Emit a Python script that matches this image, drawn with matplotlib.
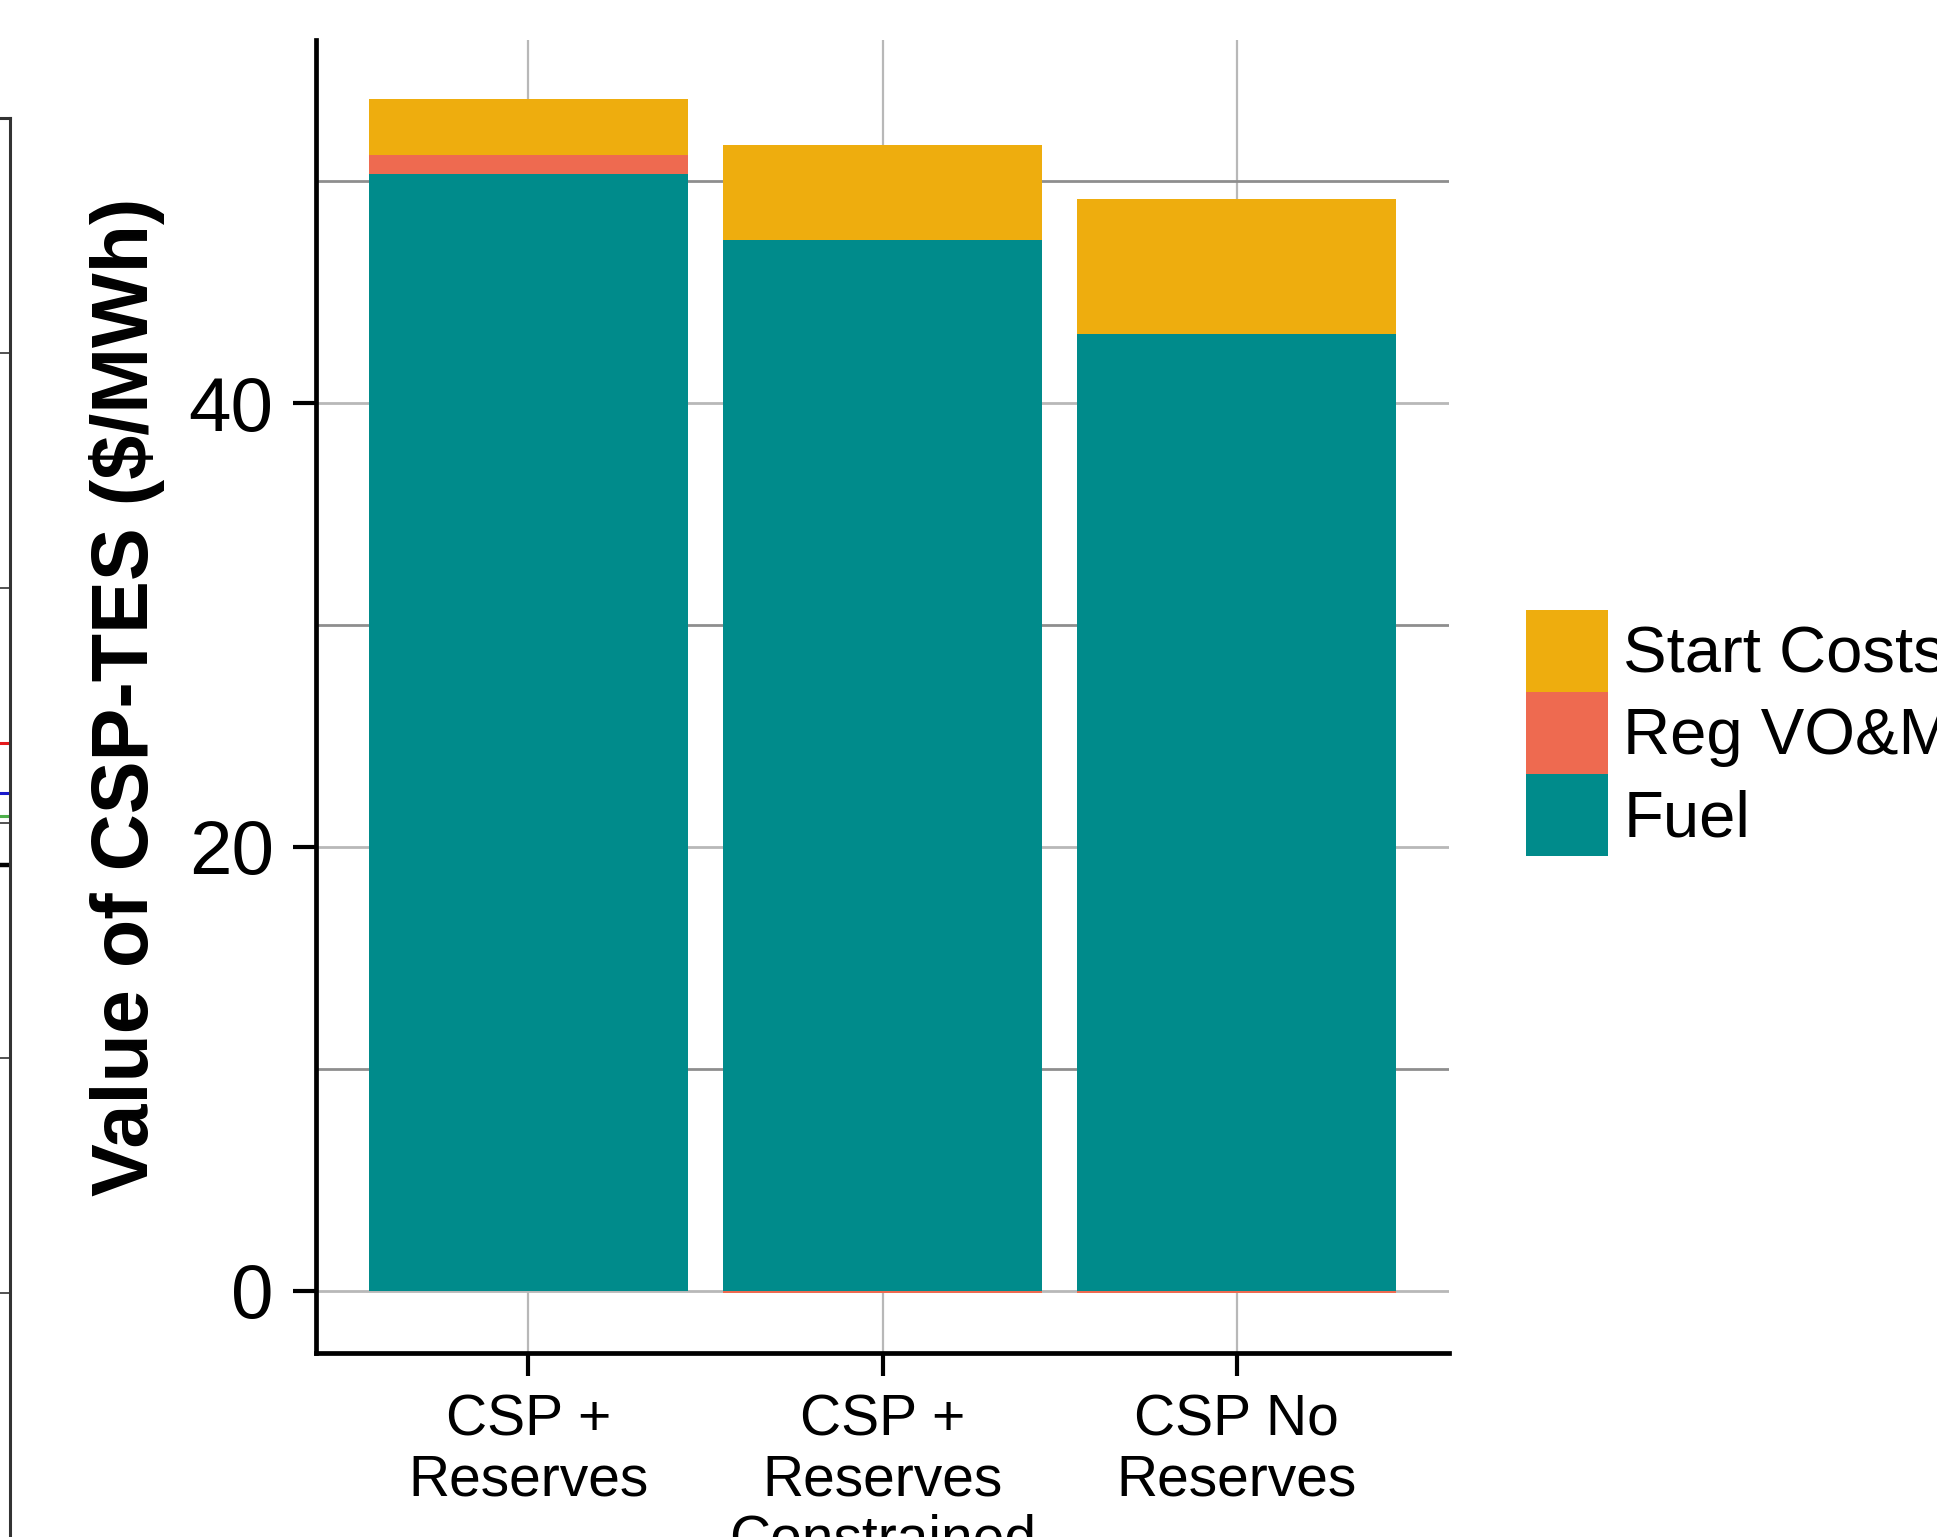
import matplotlib
matplotlib.use("Agg")
import matplotlib.pyplot as plt
from matplotlib.patches import Patch
import numpy as np

plt.rcParams["font.family"] = ["Liberation Sans", "DejaVu Sans"]

W, H = 1937, 1537

SCENARIOS = ["CSP +\nReserves", "CSP +\nReserves\nConstrained", "CSP No\nReserves"]
FUEL = [50.3, 47.35, 43.1]
REG_VOM = [0.88, -0.12, -0.12]
START_COSTS = [2.5, 4.3, 6.1]
COMPONENTS = ["Fuel", "Reg VO&M", "Start Costs"]
COLORS = {"Fuel": "#008B8B", "Reg VO&M": "#EE6A50", "Start Costs": "#EEAD0E"}
Y_MAJOR = [0, 20, 40]
Y_MINOR = [10, 30, 50]

# neighbouring panel, cut off at the left edge of the picture
LEFT_TICKS = [0, 1, 2, 3, 4, 5]
LEFT_LEVELS = [2.34, 2.13, 2.03, 1.82]
LEFT_COLORS = ["#E41A1C", "#1A1ACC", "#4DAF4A", "black"]


def px_box(x0, y0, x1, y1):
    # pixel box (top-left origin) -> figure fractions
    return [x0 / W, 1 - y1 / H, (x1 - x0) / W, (y1 - y0) / H]


fig = plt.figure(figsize=(W / 100, H / 100), dpi=100)

# --- the cut-off panel on the left ---
axl = fig.add_axes(px_box(-100, 118, 10, 1690))
axl.set_xlim(0, 1)
axl.set_ylim(-1.688, 5.0)
for lvl, col in zip(LEFT_LEVELS, LEFT_COLORS):
    axl.axhline(lvl, color=col, lw=2.2 if col != "black" else 3.2)
axl.set_yticks(LEFT_TICKS)
axl.yaxis.tick_right()
axl.tick_params(axis="y", direction="in", length=9, width=1.2, color="#333333",
                labelright=False)
axl.set_xticks([])
for side in ["left", "bottom"]:
    axl.spines[side].set_visible(False)
for side in ["right", "top"]:
    axl.spines[side].set_linewidth(2.2)
    axl.spines[side].set_color("#333333")

# --- main panel ---
ax = fig.add_axes(px_box(316, 40, 1449, 1353))
x = np.arange(1, len(SCENARIOS) + 1)
pos = np.zeros(len(x))
neg = np.zeros(len(x))
for name, vals in zip(COMPONENTS, [FUEL, REG_VOM, START_COSTS]):
    vals = np.array(vals, dtype=float)
    bottom = np.where(vals >= 0, pos, neg)
    ax.bar(x, vals, 0.9, bottom=bottom, color=COLORS[name], linewidth=0, zorder=3)
    pos += np.clip(vals, 0, None)
    neg += np.clip(vals, None, 0)

ax.set_xlim(0.4, 3.6)
ax.set_ylim(-2.81, 56.36)
ax.set_xticks(x)
ax.set_xticklabels(SCENARIOS)
ax.set_yticks(Y_MAJOR)
ax.set_yticks(Y_MINOR, minor=True)
ax.set_axisbelow(True)
ax.grid(axis="y", which="major", color="#B8B8B8", lw=2.0)
ax.grid(axis="y", which="minor", color="#8E8E8E", lw=2.0)
ax.grid(axis="x", which="major", color="#B8B8B8", lw=1.6)

ax.tick_params(axis="both", which="major", length=16.5, width=3, color="black")
ax.tick_params(axis="y", labelsize=55, pad=14)
ax.tick_params(axis="x", labelsize=41, pad=13)
ax.tick_params(which="minor", length=0)
for lab in ax.get_xticklabels():
    lab.set_linespacing(1.14)

ax.spines[["top", "right"]].set_visible(False)
ax.spines[["left", "bottom"]].set_linewidth(3.4)

ax.set_ylabel("Value of CSP-TES ($/MWh)", fontsize=57, fontweight="bold")
ax.yaxis.set_label_coords(-0.133, 0.5)

handles = [Patch(color=COLORS[n], linewidth=0) for n in reversed(COMPONENTS)]
fig.legend(handles, list(reversed(COMPONENTS)), loc="upper left",
           bbox_to_anchor=(1526 / W, 1 - 610 / H), frameon=False, fontsize=47,
           handlelength=1.26, handleheight=1.555, handletextpad=0.23,
           labelspacing=0, borderpad=0, borderaxespad=0)

fig.savefig("out.png", dpi=100)
